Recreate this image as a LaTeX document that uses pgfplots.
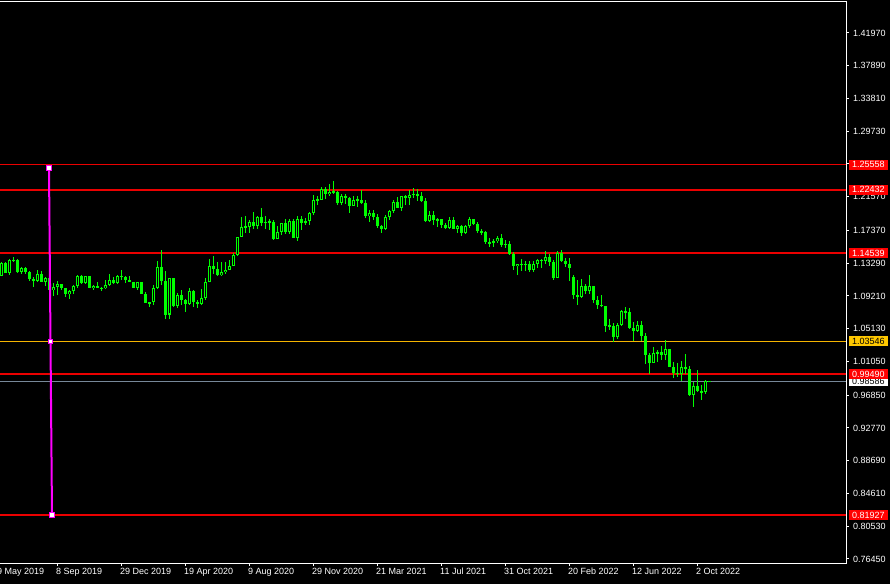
\documentclass[border=0pt]{standalone}
\usepackage{pgfplots}
\pgfplotsset{compat=1.18}
\usepackage{pgfplotstable}
\usepackage{fontspec}
\setmainfont{Liberation Sans}

\definecolor{candle}{RGB}{0,255,0}
\definecolor{lvred}{RGB}{235,0,0}
\definecolor{boxred}{RGB}{255,0,0}
\definecolor{lvgold}{RGB}{255,200,0}
\definecolor{goldline}{RGB}{245,180,0}
\definecolor{bidgray}{RGB}{119,136,153}
\definecolor{tline}{RGB}{255,0,255}

% weekly candles, k = weeks after 8 Sep 2019
\pgfplotstableread{
k o h l c
-14 1.1170 1.1348 1.1164 1.1332
-13 1.1330 1.1348 1.1202 1.1209
-12 1.1210 1.1383 1.1181 1.1370
-11 1.1370 1.1412 1.1346 1.1368
-10 1.1368 1.1376 1.1207 1.1225
-9 1.1225 1.1286 1.1200 1.1270
-8 1.1270 1.1286 1.1200 1.1220
-7 1.1220 1.1230 1.1101 1.1127
-6 1.1127 1.1160 1.1027 1.1108
-5 1.1108 1.1250 1.1100 1.1200
-4 1.1200 1.1230 1.1090 1.1090
-3 1.1090 1.1160 1.1050 1.1143
-2 1.1143 1.1165 1.0926 1.0990
-1 1.0990 1.1085 1.0926 1.1030
0 1.1030 1.1109 1.0927 1.1073
1 1.1073 1.1076 1.0990 1.1016
2 1.1016 1.1025 1.0905 1.0940
3 1.0940 1.0999 1.0879 1.0978
4 1.0978 1.1063 1.0940 1.1040
5 1.1040 1.1179 1.1018 1.1170
6 1.1170 1.1180 1.1072 1.1082
7 1.1082 1.1175 1.1073 1.1165
8 1.1165 1.1175 1.1014 1.1020
9 1.1020 1.1060 1.0989 1.1050
10 1.1050 1.1097 1.1014 1.1020
11 1.1020 1.1030 1.0981 1.1015
12 1.1015 1.1117 1.1003 1.1060
13 1.1060 1.1200 1.1040 1.1120
14 1.1120 1.1152 1.1066 1.1080
15 1.1080 1.1188 1.1068 1.1175
16 1.1175 1.1239 1.1124 1.1160
17 1.1160 1.1170 1.1085 1.1120
18 1.1120 1.1173 1.1090 1.1090
19 1.1090 1.1100 1.1020 1.1025
20 1.1025 1.1095 1.0992 1.1090
21 1.1090 1.1095 1.0940 1.0945
22 1.0945 1.0965 1.0827 1.0830
23 1.0830 1.0850 1.0778 1.0845
24 1.0845 1.1053 1.0810 1.1025
25 1.1025 1.1356 1.1005 1.1285
26 1.1285 1.1495 1.1055 1.1105
27 1.1105 1.1236 1.0636 1.0690
28 1.0690 1.1147 1.0637 1.1140
29 1.1140 1.1147 1.0778 1.0800
30 1.0800 1.0952 1.0768 1.0935
31 1.0935 1.0990 1.0812 1.0875
32 1.0875 1.0887 1.0727 1.0820
33 1.0820 1.1020 1.0812 1.0980
34 1.0980 1.0990 1.0783 1.0840
35 1.0840 1.0875 1.0775 1.0820
36 1.0820 1.1009 1.0810 1.0900
37 1.0900 1.1145 1.0870 1.1100
38 1.1100 1.1384 1.1095 1.1290
39 1.1290 1.1422 1.1190 1.1255
40 1.1255 1.1350 1.1168 1.1180
41 1.1180 1.1350 1.1170 1.1220
42 1.1220 1.1350 1.1190 1.1250
43 1.1250 1.1375 1.1240 1.1300
44 1.1300 1.1452 1.1290 1.1430
45 1.1430 1.1660 1.1420 1.1655
46 1.1655 1.1908 1.1650 1.1778
47 1.1778 1.1916 1.1710 1.1785
48 1.1785 1.1865 1.1710 1.1840
49 1.1840 1.1966 1.1755 1.1795
50 1.1795 1.1920 1.1760 1.1905
51 1.1905 1.2011 1.1789 1.1835
52 1.1835 1.1917 1.1752 1.1845
53 1.1845 1.1882 1.1737 1.1840
54 1.1840 1.1872 1.1612 1.1630
55 1.1630 1.1790 1.1630 1.1715
56 1.1715 1.1830 1.1685 1.1830
57 1.1830 1.1880 1.1689 1.1715
58 1.1715 1.1880 1.1690 1.1860
59 1.1860 1.1880 1.1640 1.1645
60 1.1645 1.1920 1.1603 1.1875
61 1.1875 1.1920 1.1745 1.1835
62 1.1835 1.1890 1.1800 1.1855
63 1.1855 1.1965 1.1800 1.1960
64 1.1960 1.2177 1.1925 1.2120
65 1.2120 1.2170 1.2060 1.2115
66 1.2115 1.2273 1.2110 1.2255
67 1.2255 1.2272 1.2130 1.2185
68 1.2185 1.2310 1.2160 1.2215
69 1.2215 1.2349 1.2190 1.2220
70 1.2220 1.2222 1.2055 1.2075
71 1.2075 1.2190 1.2055 1.2170
72 1.2170 1.2190 1.2060 1.2135
73 1.2135 1.2150 1.1952 1.2045
74 1.2045 1.2170 1.2045 1.2120
75 1.2120 1.2168 1.2023 1.2120
76 1.2120 1.2243 1.2065 1.2075
77 1.2075 1.2113 1.1894 1.1915
78 1.1915 1.1990 1.1836 1.1950
79 1.1950 1.1989 1.1873 1.1905
80 1.1905 1.1945 1.1762 1.1795
81 1.1795 1.1800 1.1704 1.1760
82 1.1760 1.1928 1.1740 1.1900
83 1.1900 1.1994 1.1870 1.1985
84 1.1985 1.2115 1.1950 1.2095
85 1.2095 1.2150 1.2020 1.2020
86 1.2020 1.2170 1.1985 1.2165
87 1.2165 1.2180 1.2052 1.2145
88 1.2145 1.2245 1.2050 1.2180
89 1.2180 1.2266 1.2135 1.2195
90 1.2195 1.2255 1.2105 1.2165
91 1.2165 1.2218 1.2095 1.2105
92 1.2105 1.2145 1.1847 1.1860
93 1.1860 1.1975 1.1847 1.1935
94 1.1935 1.1975 1.1807 1.1865
95 1.1865 1.1895 1.1782 1.1875
96 1.1875 1.1880 1.1772 1.1805
97 1.1805 1.1830 1.1752 1.1770
98 1.1770 1.1909 1.1760 1.1870
99 1.1870 1.1908 1.1755 1.1760
100 1.1760 1.1800 1.1705 1.1795
101 1.1795 1.1805 1.1665 1.1700
102 1.1700 1.1807 1.1690 1.1795
103 1.1795 1.1909 1.1770 1.1880
104 1.1880 1.1885 1.1800 1.1815
105 1.1815 1.1845 1.1700 1.1725
106 1.1725 1.1750 1.1675 1.1720
107 1.1720 1.1725 1.1563 1.1595
108 1.1595 1.1640 1.1528 1.1575
109 1.1575 1.1625 1.1525 1.1600
110 1.1600 1.1670 1.1585 1.1645
111 1.1645 1.1692 1.1535 1.1560
112 1.1560 1.1615 1.1513 1.1565
113 1.1565 1.1610 1.1433 1.1445
114 1.1445 1.1465 1.1250 1.1290
115 1.1290 1.1320 1.1185 1.1320
116 1.1320 1.1380 1.1235 1.1315
117 1.1315 1.1355 1.1227 1.1315
118 1.1315 1.1360 1.1220 1.1240
119 1.1240 1.1360 1.1220 1.1320
120 1.1320 1.1385 1.1275 1.1370
121 1.1365 1.1385 1.1272 1.1360
122 1.1360 1.1483 1.1315 1.1410
123 1.1410 1.1440 1.1300 1.1345
124 1.1345 1.1370 1.1120 1.1145
125 1.1145 1.1483 1.1140 1.1455
126 1.1455 1.1495 1.1340 1.1360
127 1.1360 1.1395 1.1280 1.1320
128 1.1320 1.1395 1.1106 1.1270
129 1.1160 1.1180 1.0885 1.0930
130 1.0930 1.1120 1.0805 1.0910
131 1.0910 1.1137 1.0900 1.1050
132 1.1050 1.1070 1.0945 1.0985
133 1.0985 1.1185 1.0945 1.1045
134 1.1045 1.1050 1.0835 1.0875
135 1.0875 1.0925 1.0758 1.0810
136 1.0810 1.0936 1.0785 1.0800
137 1.0800 1.0800 1.0470 1.0545
138 1.0545 1.0640 1.0491 1.0550
139 1.0550 1.0590 1.0350 1.0410
140 1.0410 1.0590 1.0390 1.0560
141 1.0560 1.0750 1.0550 1.0730
142 1.0730 1.0785 1.0630 1.0720
143 1.0720 1.0773 1.0505 1.0520
144 1.0520 1.0600 1.0360 1.0490
145 1.0490 1.0605 1.0470 1.0555
146 1.0555 1.0615 1.0365 1.0425
147 1.0425 1.0460 1.0070 1.0185
148 1.0185 1.0205 0.9952 1.0085
149 1.0085 1.0280 1.0080 1.0210
150 1.0210 1.0250 1.0095 1.0220
151 1.0220 1.0295 1.0125 1.0180
152 1.0180 1.0370 1.0120 1.0260
153 1.0260 1.0265 1.0030 1.0040
154 1.0040 1.0095 0.9900 0.9965
155 0.9965 1.0080 0.9910 0.9955
156 0.9955 1.0115 0.9865 1.0040
157 1.0040 1.0195 0.9945 1.0015
158 1.0015 1.0050 0.9670 0.9690
159 0.9690 0.9855 0.9535 0.9800
160 0.9800 0.9999 0.9730 0.9740
161 0.9740 0.9810 0.9630 0.9720
162 0.9720 0.9875 0.9705 0.9860
163 0.9858 0.9868 0.9850 0.9859
}\candles

\begin{document}
\begin{tikzpicture}
\fill[black] (0,0) rectangle (890pt,584pt);
\useasboundingbox (0,0) rectangle (890pt,584pt);
\begin{axis}[
  at={(-11pt,21pt)}, anchor=south west,
  scale only axis, width=857pt, height=561pt,
  xmin=-17, xmax=197.25, ymin=0.75949, ymax=1.45821,
  clip=false,
  axis line style={white, line width=1pt},
  tick style={white, line width=1pt},
  tick align=outside, major tick length=3pt,
  xtick pos=bottom, ytick pos=right, yticklabel pos=right,
  xtick={-16,0,16,32,48,64,80,96,112,128,144,160},
  xticklabels={19 May 2019,8 Sep 2019,29 Dec 2019,19 Apr 2020,9 Aug 2020,29 Nov 2020,21 Mar 2021,11 Jul 2021,31 Oct 2021,20 Feb 2022,12 Jun 2022,2 Oct 2022},
  ytick={1.4197,1.3789,1.3381,1.2973,1.2565,1.2157,1.1737,1.1329,1.0921,1.0513,1.0105,0.9685,0.9277,0.8869,0.8461,0.8053,0.7645},
  yticklabels={1.41970,1.37890,1.33810,1.29730,1.25650,1.21570,1.17370,1.13290,1.09210,1.05130,1.01050,0.96850,0.92770,0.88690,0.84610,0.80530,0.76450},
  ticklabel style={text=white, font=\fontsize{9}{10}\selectfont, inner sep=0pt},
  xticklabel style={anchor=north west, xshift=-1pt, yshift=-2pt},
  yticklabel style={anchor=west, xshift=4pt},
  ]
% level lines
\addplot[lvred, line width=1.5pt] coordinates {(-17,1.25558) (197.25,1.25558)};
\addplot[lvred, line width=1.5pt] coordinates {(-17,1.22432) (197.25,1.22432)};
\addplot[lvred, line width=1.5pt] coordinates {(-17,1.14539) (197.25,1.14539)};
\addplot[lvred, line width=1.5pt] coordinates {(-17,0.81927) (197.25,0.81927)};
\addplot[goldline, line width=1.6pt] coordinates {(-17,1.03546) (197.25,1.03546)};
\addplot[bidgray, line width=1.2pt] coordinates {(-17,0.98586) (197.25,0.98586)};
\addplot[lvred, line width=2.6pt] coordinates {(-17,0.99490) (197.25,0.99490)};
% wicks
\addplot[draw=none, mark=none, error bars/.cd, y dir=both, y explicit, error mark=none,
  error bar style={draw=candle, line width=1pt}]
  table[x=k, y expr=(\thisrow{h}+\thisrow{l})/2, y error expr=(\thisrow{h}-\thisrow{l})/2] {\candles};
% bodies
\addplot[draw=none, mark=none, error bars/.cd, y dir=both, y explicit, error mark=none,
  error bar style={draw=candle, line width=3pt}]
  table[x=k, y expr=(\thisrow{o}+\thisrow{c})/2, y error expr={max(abs(\thisrow{c}-\thisrow{o})/2,0.0006)}] {\candles};
% hollow interior of bull candles
\addplot[draw=none, mark=none, error bars/.cd, y dir=both, y explicit, error mark=none,
  error bar style={draw=black, line width=1pt}]
  table[x=k, y expr=(\thisrow{o}+\thisrow{c})/2, y error expr={\thisrow{c}>\thisrow{o} ? max((\thisrow{c}-\thisrow{o})/2-0.00125,0) : 0}] {\candles};
% trend line with its handles
\addplot[tline, line width=2pt] coordinates {(-2,1.2515) (-1.25,0.8193)};
\addplot[only marks, mark=square*, mark size=2.2pt, mark options={draw=tline, fill=white, line width=1pt}]
  coordinates {(-2,1.2515) (-1.625,1.0354) (-1.25,0.8193)};
% price labels
\begin{scope}[every node/.style={anchor=west, xshift=3pt, inner xsep=3pt, inner ysep=0pt,
  minimum height=10pt, font=\fontsize{9}{10}\selectfont}]
\node[fill=boxred, text=white] at (axis cs:197.25,1.25558) {1.25558};
\node[fill=boxred, text=white] at (axis cs:197.25,1.22432) {1.22432};
\node[fill=boxred, text=white] at (axis cs:197.25,1.14539) {1.14539};
\node[fill=lvgold, text=black] at (axis cs:197.25,1.03546) {1.03546};
\node[fill=white, text=black] at (axis cs:197.25,0.98586) {0.98586};
\node[fill=boxred, text=white] at (axis cs:197.25,0.99490) {0.99490};
\node[fill=boxred, text=white] at (axis cs:197.25,0.81927) {0.81927};
\end{scope}
\end{axis}
\end{tikzpicture}
\end{document}
